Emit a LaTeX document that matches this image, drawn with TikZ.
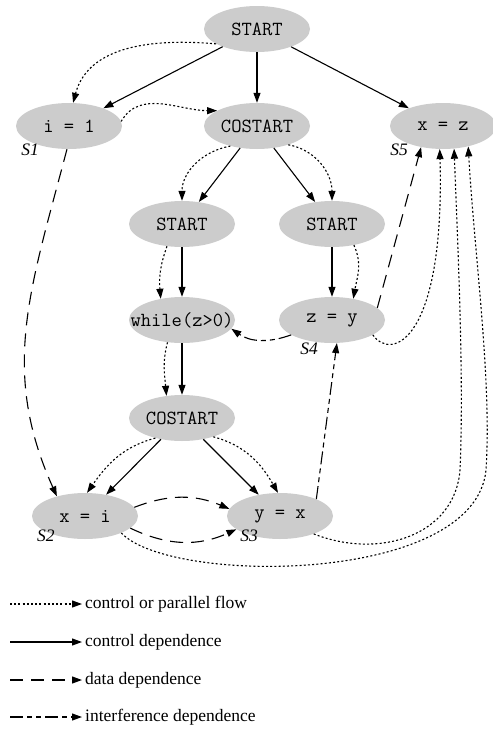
\documentclass[tikz,border=0pt]{standalone}
\usepackage{fontspec}
\setmainfont{Liberation Serif}
\usepackage{tikz}
\usetikzlibrary{shapes,arrows.meta,positioning}

\begin{document}
\begin{tikzpicture}
  [
    x=1pt, y=1pt,
    Stmt/.style={ellipse, fill=black!20, minimum width=106pt, minimum height=46pt, inner sep=0pt, font=\ttfamily\fontsize{20}{22}\selectfont},
    Tag/.style={font=\itshape\fontsize{17.5}{20}\selectfont},
    Legend/.style={anchor=west, inner sep=0pt, font=\fontsize{17.5}{20}\selectfont},
    Tip/.style={-{Triangle[length=10pt 0 0, width=7pt 0 0]}},
    Flow/.style={Tip, draw, line width=1.1pt, dash pattern=on 2pt off 2.2pt},
    Ctrl/.style={Tip, draw, line width=1.1pt},
    Data/.style={Tip, draw, line width=1.1pt, dash pattern=on 13pt off 8pt},
    Intf/.style={Tip, draw, line width=1.1pt, dash pattern=on 13pt off 4pt on 5pt off 4pt on 5pt off 4pt}
  ]
  \useasboundingbox (0,0) rectangle (493,-729);

  % Nodes
  \node[Stmt] (start) at(257, -29) {START};
  \node[Stmt] (i1) at(69, -126) {i = 1};
  \node[Stmt] (costart) at(257, -126) {COSTART};
  \node[Stmt] (xz) at(443, -126) {x = z};
  \node[Stmt] (startL) at(182, -224) {START};
  \node[Stmt] (startR) at(332, -224) {START};
  \node[Stmt] (while) at(182, -320) {\makebox[0pt]{while(z>0)}};
  \node[Stmt] (zy) at(332, -320) {z = y};
  \node[Stmt] (costartB) at(182, -418) {COSTART};
  \node[Stmt] (xi) at(85, -516) {x = i};
  \node[Stmt] (yx) at(280, -516) {y = x};

  % Statement labels
  \node[Tag] (s1) at(30, -150) {S1};
  \node[Tag] (s2) at(46, -536) {S2};
  \node[Tag] (s3) at(249, -536) {S3};
  \node[Tag] (s4) at(309, -349) {S4};
  \node[Tag] (s5) at(399, -150) {S5};

  % Control dependence
  \path [Ctrl] (start) -- (i1);
  \path [Ctrl] (start) -- (costart);
  \path [Ctrl] (start) -- (xz);
  \path [Ctrl] (costart) -- (startL);
  \path [Ctrl] (costart) -- (startR);
  \path [Ctrl] (startL) -- (while);
  \path [Ctrl] (startR) -- (zy);
  \path [Ctrl] (while) -- (costartB);
  \path [Ctrl] (costartB) -- (xi);
  \path [Ctrl] (costartB) -- (yx);

  % Control or parallel flow
  \path [Flow] (start.200) to[out=175, in=75] (i1.80);
  \path [Flow] (i1.5) to[out=60, in=180] (costart.159);
  \path [Flow] (costart.217) to[out=190, in=90] (startL.north);
  \path [Flow] (costart.329) to[out=-10, in=90] (startR.north);
  \path [Flow] (startL.236) to[out=250, in=95] (while.135);
  \path [Flow] (startR.316) to[out=-65, in=80] (zy.45);
  \path [Flow] (while.237) to[out=255, in=95] (costartB.125);
  \path [Flow] (costartB.217) to[out=195, in=55] (xi.85);
  \path [Flow] (costartB.329) to[out=-15, in=120] (yx.95);
  \path [Flow] (zy.340) .. controls (392,-362) and (445,-340) .. (xz.262);
  \path [Flow] (yx.-28) .. controls (380,-560) and (455,-535) .. (460,-470)
               .. controls (464,-380) and (458,-250) .. (xz.296);
  \path [Flow] (xi.-25) .. controls (170,-585) and (475,-585) .. (486,-470)
               .. controls (492,-380) and (474,-250) .. (xz.321);

  % Data dependence
  \path [Data] (i1.265) .. controls (30,-290) and (0,-370) .. (xi.145);
  \path [Data] (zy.15) -- (xz.224);
  \path [Data] (xi.10) to[bend left=22] (yx.172);
  \path [Data] (xi.-15) to[bend right=25] (yx.197);

  % Interference dependence
  \path [Intf] (yx.25) -- (zy.-78);
  \path [Intf] (zy.200) to[out=200, in=-35] (while.-10);

  % Legend
  \coordinate (f0) at(10, -604);
  \coordinate (f1) at(82, -604);
  \coordinate (c0) at(10, -642);
  \coordinate (c1) at(82, -642);
  \coordinate (d0) at(10, -680);
  \coordinate (d1) at(82, -680);
  \coordinate (n0) at(10, -717);
  \coordinate (n1) at(82, -717);
  \path [Flow] (f0) -- (f1);
  \path [Ctrl] (c0) -- (c1);
  \path [Data] (d0) -- (d1);
  \path [Intf] (n0) -- (n1);
  \node[Legend, right=3pt of f1] (ft) {control or parallel flow};
  \node[Legend, right=3pt of c1] (ct) {control dependence};
  \node[Legend, right=3pt of d1] (dt) {data dependence};
  \node[Legend, right=3pt of n1] (nt) {interference dependence};

\end{tikzpicture}
\end{document}
